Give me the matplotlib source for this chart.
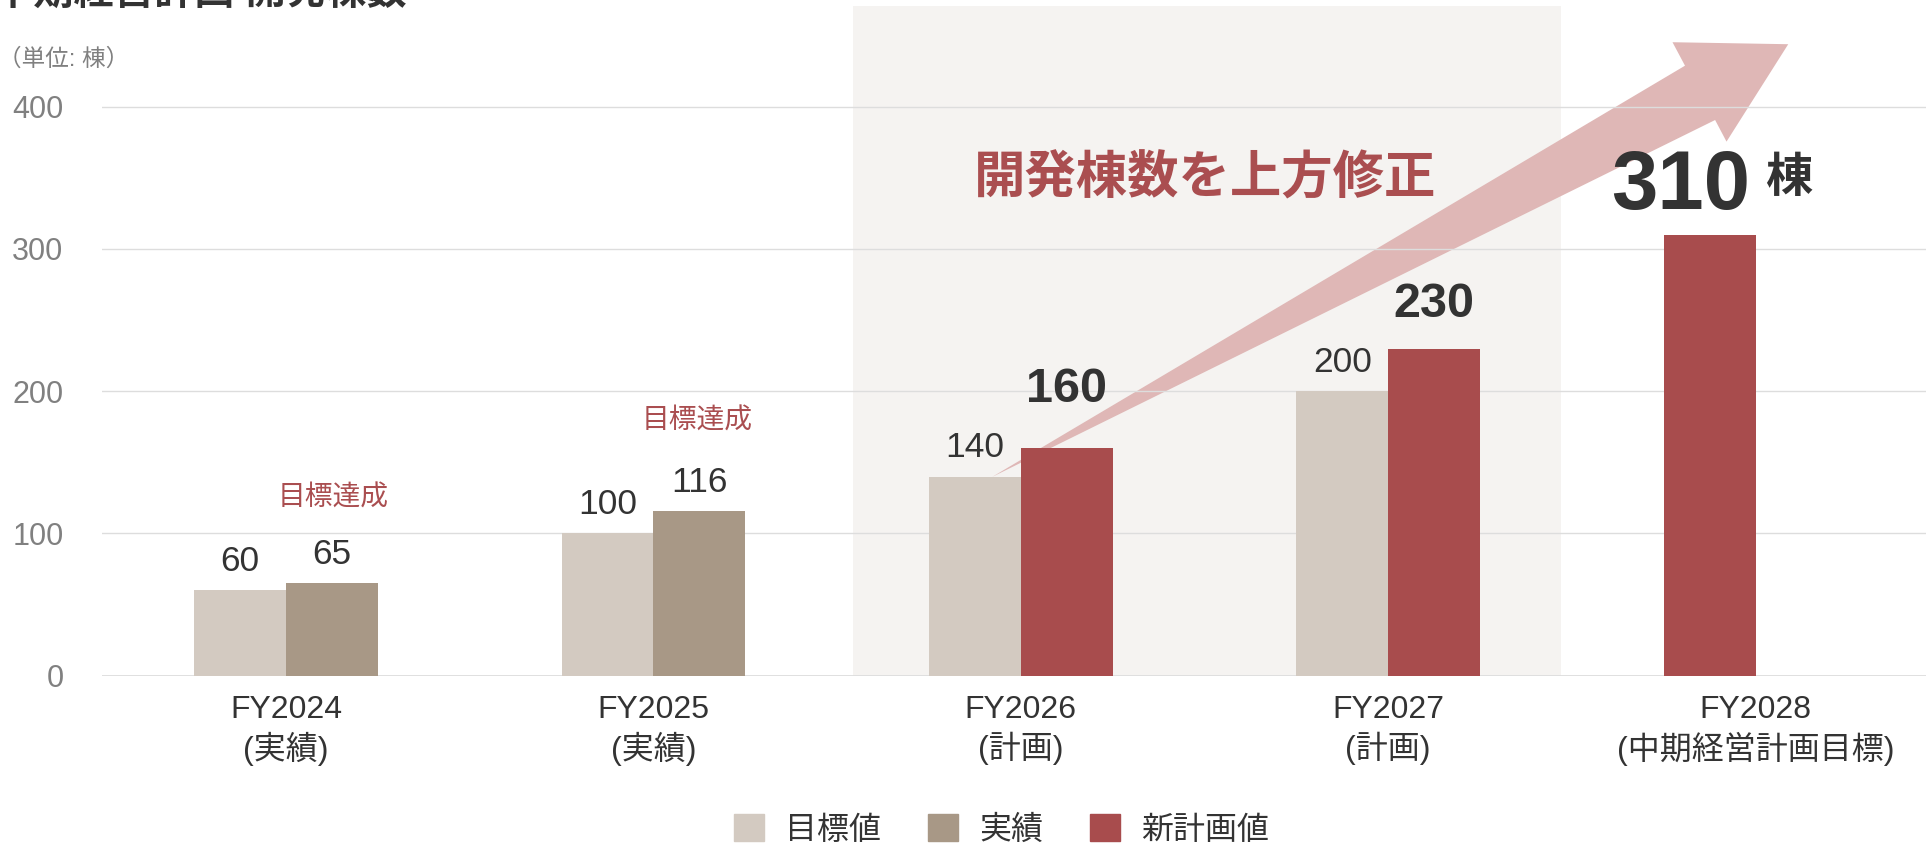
import numpy as np
import matplotlib.pyplot as plt
from matplotlib.patches import Patch, Polygon

plt.rcParams['font.family'] = ['Liberation Sans', 'Noto Sans CJK JP']

# data
categories = ['FY2024\n(実績)', 'FY2025\n(実績)', 'FY2026\n(計画)', 'FY2027\n(計画)',
              'FY2028\n(中期経営計画目標)']
target = [60, 100, 140, 200, np.nan]
actual = [65, 116, np.nan, np.nan, np.nan]
new_plan = [np.nan, np.nan, 160, 230, 310]
series_names = ['目標値', '実績', '新計画値']
y_ticks = [0, 100, 200, 300, 400]

c_target = '#d3cac1'
c_actual = '#a89886'
c_new = '#a84c4d'
c_red_text = '#aa4e50'
c_arrow = '#dfb7b6'
c_dark = '#333333'

fig = plt.figure(figsize=(19.26, 8.46), dpi=100)
ax = fig.add_axes([0.05312, 0.20142, 0.94688, 0.79170])
ax.set_xlim(-0.5, 4.464)
ax.set_ylim(0, 471)

x = np.arange(len(categories))
w = 0.25
left = x - w / 2
right = x + w / 2
# new plan bar sits in the right slot when there is a target, else the left one
new_x = np.where(np.isnan(target), left, right)

# shaded plan period
ax.axvspan(1.542, 3.471, color='#f5f3f1', zorder=0.1, lw=0)

# big tapered arrow
arrow = Polygon([(1.922, 139.7), (3.808, 428.9), (3.774, 445.4), (4.089, 444.0),
                 (3.921, 375.5), (3.890, 390.7)], closed=True,
                facecolor=c_arrow, edgecolor='none', zorder=0.3, clip_on=False)
ax.add_patch(arrow)

ax.bar(left, target, w, color=c_target, zorder=2)
ax.bar(right, actual, w, color=c_actual, zorder=2)
ax.bar(new_x, new_plan, w, color=c_new, zorder=2)

# value labels
for xs, vals in [(left, target), (right, actual)]:
    for xi, v in zip(xs, vals):
        if np.isnan(v):
            continue
        ax.annotate(f'{v:g}', (xi, v), xytext=(0, 13.7), textcoords='offset points',
                    ha='center', va='baseline', fontsize=25.5, color=c_dark)

bold_offsets = {2: 33.3, 3: 22.8}
for i, off in bold_offsets.items():
    ax.annotate(f'{new_plan[i]:g}', (new_x[i], new_plan[i]), xytext=(0, off),
                textcoords='offset points', ha='center', va='baseline',
                fontsize=35, fontweight='bold', color=c_dark)

ax.text(3.985, 328.3, f'{new_plan[4]:g}', ha='right', va='baseline', fontsize=60,
        fontweight='bold', color=c_dark)
ax.text(4.026, 340, '棟', ha='left', va='baseline', fontsize=34, fontweight='bold',
        color=c_dark, family=['Noto Sans CJK JP'])

ax.text(0.127, 124.5, '目標達成', ha='center', va='center', fontsize=20, color=c_red_text)
ax.text(1.120, 178.7, '目標達成', ha='center', va='center', fontsize=20, color=c_red_text)
ax.text(2.503, 349, '開発棟数を上方修正', ha='center', va='center', fontsize=37,
        fontweight='bold', color=c_red_text)

# axes styling
for s in ax.spines.values():
    s.set_visible(False)
ax.set_axisbelow(True)
ax.yaxis.grid(True, color='#dddddd', lw=1.0)
ax.axhline(0, color='#dedede', lw=2, zorder=1)
ax.set_yticks(y_ticks)
ax.set_yticklabels([str(t) for t in y_ticks])
ax.set_xticks(x)
ax.set_xticklabels(categories, linespacing=1.25)
ax.tick_params(axis='y', length=0, pad=28, labelsize=22, labelcolor='#808080')
ax.tick_params(axis='x', length=0, pad=14, labelsize=23, labelcolor=c_dark)

# title (cut at top) and unit
fig.text(-7 / 1926, 1 - 3.8 / 846, '中期経営計画 開発棟数', ha='left', va='baseline',
         fontsize=29, fontweight='bold', color=c_dark)
fig.text(-2 / 1926, 1 - 59 / 846, '（単位: 棟）', ha='left', va='center', fontsize=17,
         color='#808080')

handles = [Patch(color=c) for c in [c_target, c_actual, c_new]]
leg = fig.legend(handles, series_names, loc='center', bbox_to_anchor=(0.520, 0.019), ncol=3,
                 frameon=False, fontsize=23, handlelength=0.94, handleheight=0.94,
                 handletextpad=0.65, columnspacing=1.47)
for t in leg.get_texts():
    t.set_color(c_dark)

fig.savefig('out.png', dpi=100)
